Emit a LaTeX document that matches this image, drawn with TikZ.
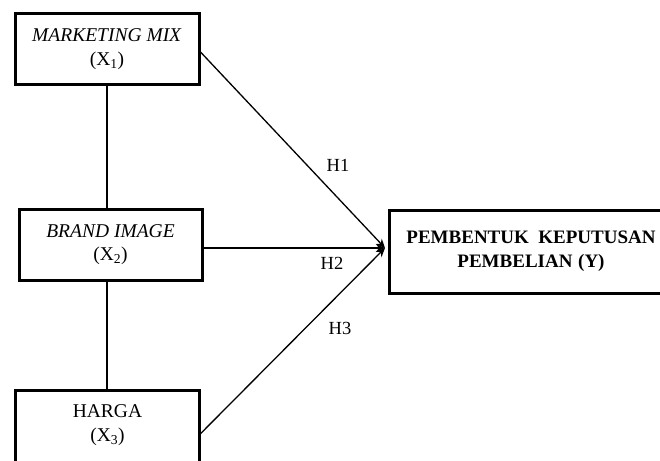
\documentclass[tikz,border=0pt]{standalone}
\usepackage{fontspec}
\setmainfont{Liberation Serif}
\usetikzlibrary{arrows.meta,calc}
\begin{document}
\begin{tikzpicture}[x=1pt,y=-1pt,
  boxst/.style={draw=black,line width=3pt,align=center,inner sep=0pt,
    font=\fontsize{19.5}{23.5}\selectfont},
  txtst/.style={align=center,inner sep=0pt,font=\fontsize{19.5}{23.5}\selectfont},
  lnst/.style={line width=1.3pt},
  arst/.style={line width=1.3pt,-{Stealth[length=9pt,width=8pt]}},
  lblst/.style={font=\fontsize{18.5}{20}\selectfont,inner sep=0pt}]
\useasboundingbox (0,0) rectangle (660,460);
\clip (0,0) rectangle (660,460);
\fill[white] (0,0) rectangle (660,460);
\node[boxst,minimum width=184pt,minimum height=71pt] (x1) at (107,49) {\textit{MARKETING MIX}\\(X\textsubscript{1})};
\node[boxst,minimum width=183pt,minimum height=71pt] (x2) at (110.5,244.5) {\textit{BRAND IMAGE}\\(X\textsubscript{2})};
\node[txtst,minimum width=183pt,minimum height=68pt] (x3) at (107.5,425) {HARGA\\(X\textsubscript{3})};
\draw[line width=3pt] ($(x3.south west)+(0,20)$) -- (x3.north west) -- (x3.north east) -- ($(x3.south east)+(0,20)$);
\node[boxst,minimum width=284pt,minimum height=83pt,font=\fontsize{19}{24}\selectfont] (y) at (531,251.5) {\textbf{PEMBENTUK\hspace{0.5em}KEPUTUSAN}\\\textbf{PEMBELIAN\hspace{0.3em}(Y)}};
\coordinate (tip) at (385,248);
\draw[lnst] (x1.south) -- (x1.south |- x2.north);
\draw[lnst] (x1.south |- x2.south) -- (x1.south |- x3.north);
\draw[arst] ($(x1.east)+(0,3)$) -- (tip);
\draw[arst] (x2.east |- tip) -- (tip);
\draw[arst] ($(x3.east)+(0,10)$) -- (tip);
\node[lblst] (h1) at (338,165) {H1};
\node[lblst] (h2) at (332,263) {H2};
\node[lblst] (h3) at (340,328) {H3};
\end{tikzpicture}
\end{document}
